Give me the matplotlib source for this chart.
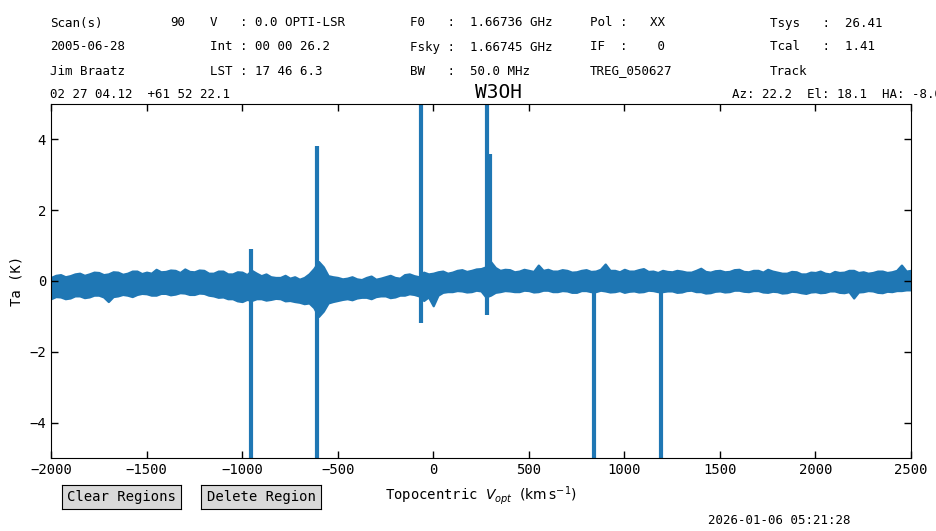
import numpy as np
import matplotlib
matplotlib.use("Agg")
import matplotlib.pyplot as plt

plt.rcParams['font.family'] = ['DejaVu Sans Mono', 'DejaVu Sans']
plt.rcParams['mathtext.fontset'] = 'dejavusans'

# ---- data ----
velocity = np.arange(-2000, 2501, 25)  # channel grid, km/s
band_upper = [
    0.10, 0.16, 0.18, 0.12, 0.15, 0.20, 0.22, 0.16, 0.20, 0.25,
    0.24, 0.18, 0.20, 0.26, 0.25, 0.19, 0.22, 0.28, 0.28, 0.21,
    0.25, 0.22, 0.33, 0.26, 0.27, 0.31, 0.30, 0.24, 0.34, 0.27,
    0.26, 0.31, 0.30, 0.22, 0.22, 0.28, 0.28, 0.20, 0.20, 0.26,
    0.25, 0.18, 0.30, 0.22, 0.15, 0.20, 0.12, 0.10, 0.10, 0.16,
    0.08, 0.12, 0.05, 0.10, 0.20, 0.35, 0.55, 0.40, 0.15, 0.12,
    0.10, 0.06, 0.08, 0.12, 0.06, 0.04, 0.10, 0.14, 0.05, 0.08,
    0.12, 0.16, 0.10, 0.08, 0.18, 0.20, 0.15, 0.12, 0.25, 0.20,
    0.22, 0.26, 0.28, 0.22, 0.25, 0.30, 0.32, 0.27, 0.30, 0.34,
    0.35, 0.40, 0.55, 0.38, 0.30, 0.33, 0.32, 0.26, 0.28, 0.33,
    0.30, 0.27, 0.45, 0.30, 0.33, 0.28, 0.28, 0.32, 0.30, 0.25,
    0.26, 0.30, 0.32, 0.27, 0.28, 0.33, 0.48, 0.30, 0.30, 0.26,
    0.33, 0.28, 0.28, 0.32, 0.35, 0.27, 0.28, 0.24, 0.30, 0.27,
    0.26, 0.30, 0.28, 0.25, 0.25, 0.30, 0.36, 0.27, 0.25, 0.29,
    0.30, 0.26, 0.27, 0.32, 0.33, 0.27, 0.26, 0.30, 0.30, 0.25,
    0.33, 0.28, 0.25, 0.22, 0.22, 0.27, 0.26, 0.20, 0.20, 0.25,
    0.24, 0.28, 0.22, 0.20, 0.27, 0.24, 0.25, 0.30, 0.30, 0.24,
    0.26, 0.22, 0.24, 0.28, 0.28, 0.24, 0.26, 0.30, 0.45, 0.28,
    0.30]
band_lower = [
    -0.50, -0.44, -0.45, -0.50, -0.48, -0.42, -0.42, -0.47, -0.45, -0.40,
    -0.40, -0.45, -0.58, -0.44, -0.42, -0.38, -0.40, -0.44, -0.38, -0.35,
    -0.36, -0.40, -0.40, -0.35, -0.35, -0.39, -0.37, -0.33, -0.34, -0.38,
    -0.38, -0.34, -0.35, -0.40, -0.42, -0.46, -0.45, -0.50, -0.50, -0.56,
    -0.58, -0.52, -0.55, -0.50, -0.50, -0.54, -0.52, -0.49, -0.50, -0.56,
    -0.55, -0.58, -0.60, -0.64, -0.62, -0.75, -1.00, -0.85, -0.62, -0.58,
    -0.55, -0.52, -0.50, -0.53, -0.48, -0.46, -0.46, -0.50, -0.44, -0.42,
    -0.42, -0.47, -0.45, -0.40, -0.40, -0.36, -0.38, -0.42, -0.55, -0.45,
    -0.70, -0.40, -0.32, -0.30, -0.30, -0.27, -0.28, -0.31, -0.30, -0.26,
    -0.28, -0.45, -0.40, -0.32, -0.30, -0.27, -0.28, -0.30, -0.30, -0.26,
    -0.27, -0.31, -0.30, -0.26, -0.26, -0.30, -0.30, -0.27, -0.28, -0.32,
    -0.32, -0.27, -0.27, -0.30, -0.30, -0.26, -0.28, -0.31, -0.30, -0.27,
    -0.32, -0.29, -0.28, -0.31, -0.30, -0.26, -0.27, -0.30, -0.30, -0.28,
    -0.28, -0.32, -0.31, -0.27, -0.26, -0.30, -0.30, -0.34, -0.33, -0.29,
    -0.28, -0.31, -0.30, -0.26, -0.26, -0.29, -0.30, -0.27, -0.27, -0.31,
    -0.32, -0.29, -0.30, -0.34, -0.33, -0.29, -0.30, -0.33, -0.35, -0.31,
    -0.30, -0.33, -0.32, -0.28, -0.28, -0.32, -0.33, -0.30, -0.48, -0.31,
    -0.30, -0.27, -0.28, -0.32, -0.33, -0.29, -0.30, -0.27, -0.27, -0.25,
    -0.25]

spike_v = [-955, -608, -606, -63, 284, 296, 841, 1192]
spike_top = [0.9, 3.8, 0.0, 5.5, 5.5, 3.6, 0.2, 0.2]
spike_bottom = [-5.5, 0.0, -5.5, -1.2, -0.95, 0.0, -5.5, -5.5]

xticks = [-2000, -1500, -1000, -500, 0, 500, 1000, 1500, 2000, 2500]
yticks = [-4, -2, 0, 2, 4]

header = [
    # (x_px, row, text)
    (50, 0, "Scan(s)"), (170, 0, "90"), (210, 0, "V   : 0.0 OPTI-LSR"),
    (410, 0, "F0   :  1.66736 GHz"), (590, 0, "Pol :   XX"),
    (770, 0, "Tsys   :  26.41"),
    (50, 1, "2005-06-28"), (210, 1, "Int : 00 00 26.2"),
    (410, 1, "Fsky :  1.66745 GHz"), (590, 1, "IF  :    0"),
    (770, 1, "Tcal   :  1.41"),
    (50, 2, "Jim Braatz"), (210, 2, "LST : 17 46 6.3"),
    (410, 2, "BW   :  50.0 MHz"), (590, 2, "TREG_050627"),
    (770, 2, "Track"),
    (50, 3, "02 27 04.12  +61 52 22.1"),
    (732, 3, "Az: 22.2  El: 18.1  HA: -8.0"),
]
row_y = [23, 47, 71, 95]

W, H = 937, 531
fig = plt.figure(figsize=(W / 100, H / 100), dpi=100)
ax = fig.add_axes([51 / W, 1 - 458 / H, (911 - 51) / W, (458 - 104) / H])

color = '#1f77b4'
ax.fill_between(velocity, band_lower, band_upper, color=color, lw=1.6,
                edgecolor=color)
ax.vlines(spike_v, spike_bottom, spike_top, color=color, lw=3)

ax.set_xlim(-2000, 2500)
ax.set_ylim(-5, 5)
ax.set_xticks(xticks)
ax.set_yticks(yticks)
ax.tick_params(direction='in', top=True, right=True, labelsize=10,
               length=5, width=1)
ax.set_ylabel("Ta (K)", fontsize=10)
ax.set_xlabel(r"Topocentric $V_{opt}$ $(\mathrm{km\,s^{-1}})$", fontsize=10,
              labelpad=5)

for xp, r, t in header:
    fig.text(xp / W, 1 - row_y[r] / H, t, fontsize=9, va='center', ha='left')

fig.text(499 / W, 1 - 93 / H, "W3OH", fontsize=14, va='center', ha='center')

# buttons
for x0, x1, label in [(62, 181, "Clear Regions"), (201, 321, "Delete Region")]:
    bax = fig.add_axes([x0 / W, 1 - 509 / H, (x1 - x0) / W, 24 / H])
    bax.set_facecolor('0.85')
    bax.set_xticks([])
    bax.set_yticks([])
    bax.text(0.5, 0.5, label, ha='center', va='center', fontsize=10,
             transform=bax.transAxes)

fig.text(708 / W, 1 - 521 / H, "2026-01-06 05:21:28", fontsize=9,
         va='center', ha='left')

fig.savefig("out.png", dpi=100)
